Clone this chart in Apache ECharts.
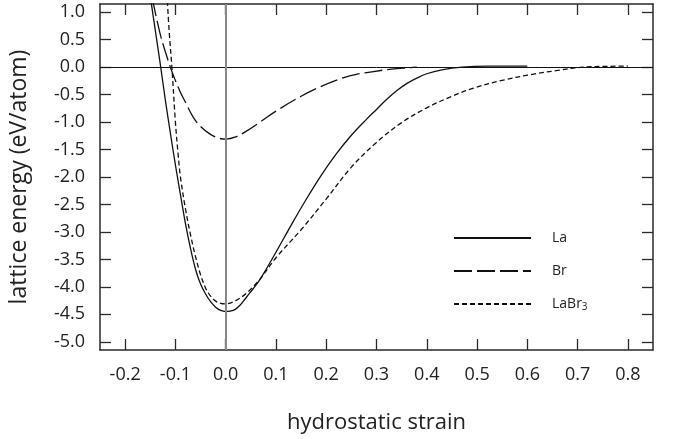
<!DOCTYPE html>
<html><head><meta charset="utf-8">
<script src="https://cdn.jsdelivr.net/npm/echarts@6/dist/echarts.min.js"></script>
<style>html,body{margin:0;padding:0;background:#fff}#c{width:673px;height:439px}</style>
</head><body><div id="c"></div>
<script>
const xTicks = [-0.2,-0.1,0.0,0.1,0.2,0.3,0.4,0.5,0.6,0.7,0.8];
const yTicks = [-5.0,-4.5,-4.0,-3.5,-3.0,-2.5,-2.0,-1.5,-1.0,-0.5,0.0,0.5,1.0];
const seriesNames = ['La','Br','LaBr3'];

const laX = [-0.15,-0.14,-0.13,-0.12,-0.11,-0.10,-0.09,-0.08,-0.07,-0.06,-0.05,-0.04,-0.03,-0.02,-0.01,0.0,0.015,0.03,0.042,0.055,0.07,0.10,0.13,0.16,0.19,0.22,0.25,0.28,0.30,0.32,0.34,0.36,0.38,0.40,0.43,0.47,0.52,0.60];
const laY = [1.29,0.67,0.05,-0.6,-1.2,-1.78,-2.32,-2.85,-3.3,-3.68,-3.95,-4.13,-4.27,-4.37,-4.43,-4.45,-4.43,-4.32,-4.18,-4.03,-3.84,-3.37,-2.88,-2.41,-1.97,-1.58,-1.24,-0.95,-0.77,-0.59,-0.43,-0.3,-0.2,-0.12,-0.05,0.0,0.02,0.02];

const brX = [-0.146,-0.131,-0.12,-0.107,-0.091,-0.08,-0.064,-0.05,-0.031,-0.015,0.0,0.02,0.042,0.07,0.10,0.15,0.19,0.235,0.26,0.294,0.33,0.368,0.38];
const brY = [1.25,0.63,0.28,-0.08,-0.44,-0.64,-0.92,-1.08,-1.22,-1.29,-1.31,-1.27,-1.16,-0.99,-0.8,-0.53,-0.35,-0.19,-0.13,-0.08,-0.035,-0.01,0.0];

const labrX = [-0.117,-0.112,-0.107,-0.10,-0.095,-0.09,-0.08,-0.07,-0.06,-0.05,-0.04,-0.03,-0.02,-0.01,0.0,0.02,0.042,0.069,0.10,0.15,0.20,0.25,0.30,0.35,0.40,0.45,0.49,0.55,0.61,0.66,0.71,0.76,0.80];
const labrY = [1.35,0.6,0.0,-1.0,-1.55,-2.0,-2.58,-3.05,-3.45,-3.78,-4.02,-4.17,-4.26,-4.3,-4.31,-4.25,-4.11,-3.85,-3.47,-2.96,-2.4,-1.82,-1.37,-1.01,-0.74,-0.53,-0.39,-0.24,-0.13,-0.06,0.0,0.015,0.02];

const FONT = 'Open Sans';
const FRAME = '#2a2a2a';
const pair = (xs, ys) => xs.map((x, i) => [x, ys[i]]);

const tickStyle = {show:true, inside:true, length:11, lineStyle:{color:FRAME, width:1.3}};
const lineStyleAxis = {show:true, onZero:false, lineStyle:{color:FRAME, width:1.5}};

const chart = echarts.init(document.getElementById('c'));
chart.setOption({
  animation:false,
  backgroundColor:'#fff',
  grid:{left:99, right:20, top:4, bottom:81},
  xAxis:[
    {type:'value', min:-0.25, max:0.85, position:'bottom',
     axisLine:lineStyleAxis, axisTick:Object.assign({customValues:xTicks}, tickStyle),
     axisLabel:{customValues:xTicks, formatter:v=>v.toFixed(1), margin:16, fontSize:18, color:'#222', fontFamily:FONT},
     splitLine:{show:false},
     name:'hydrostatic strain', nameLocation:'middle', nameGap:62,
     nameTextStyle:{fontSize:22, color:'#222', fontFamily:FONT}},
    {type:'value', min:-0.25, max:0.85, position:'top',
     axisLine:lineStyleAxis, axisTick:Object.assign({customValues:xTicks}, tickStyle),
     axisLabel:{show:false}, splitLine:{show:false}}
  ],
  yAxis:[
    {type:'value', min:-5.15, max:1.15, position:'left',
     axisLine:lineStyleAxis, axisTick:Object.assign({customValues:yTicks}, tickStyle),
     axisLabel:{customValues:yTicks, formatter:v=>v.toFixed(1), margin:15, fontSize:18, color:'#222', fontFamily:FONT},
     splitLine:{show:false},
     name:'lattice energy (eV/atom)', nameLocation:'middle', nameGap:69, nameRotate:90,
     nameTextStyle:{fontSize:23, color:'#222', fontFamily:FONT}},
    {type:'value', min:-5.15, max:1.15, position:'right',
     axisLine:lineStyleAxis, axisTick:Object.assign({customValues:yTicks}, tickStyle),
     axisLabel:{show:false}, splitLine:{show:false}}
  ],
  legend:{
    orient:'vertical', left:448, top:226, itemWidth:77, itemHeight:14, itemGap:19,
    data:seriesNames,
    itemStyle:{color:'rgba(0,0,0,0)', borderWidth:0, opacity:0},
    formatter:n => n === 'LaBr3' ? 'LaBr{sub|3}' : n,
    textStyle:{fontSize:14, color:'#222', fontFamily:FONT, padding:[0,0,0,16],
      rich:{sub:{fontSize:10, fontFamily:FONT, color:'#222', verticalAlign:'bottom', padding:[7,0,0,0]}}}
  },
  series:[
    {name:'La', type:'line', data:pair(laX, laY), showSymbol:false, symbol:'none', smooth:0.35,
     lineStyle:{color:'#111', width:1.3, type:'solid'}, itemStyle:{color:'#111'}, z:3,
     markLine:{silent:true, symbol:'none', label:{show:false},
       data:[{yAxis:0, lineStyle:{color:'#111', width:1, type:'solid'}},
             {xAxis:0, lineStyle:{color:'#888', width:2, type:'solid'}}]}},
    {name:'Br', type:'line', data:pair(brX, brY), showSymbol:false, symbol:'none', smooth:0.35,
     lineStyle:{color:'#111', width:1.3, type:[18,5]}, itemStyle:{color:'#111'}, z:3},
    {name:'LaBr3', type:'line', data:pair(labrX, labrY), showSymbol:false, symbol:'none', smooth:0.35,
     lineStyle:{color:'#111', width:1.3, type:[5,3]}, itemStyle:{color:'#111'}, z:3}
  ]
});
</script></body></html>
